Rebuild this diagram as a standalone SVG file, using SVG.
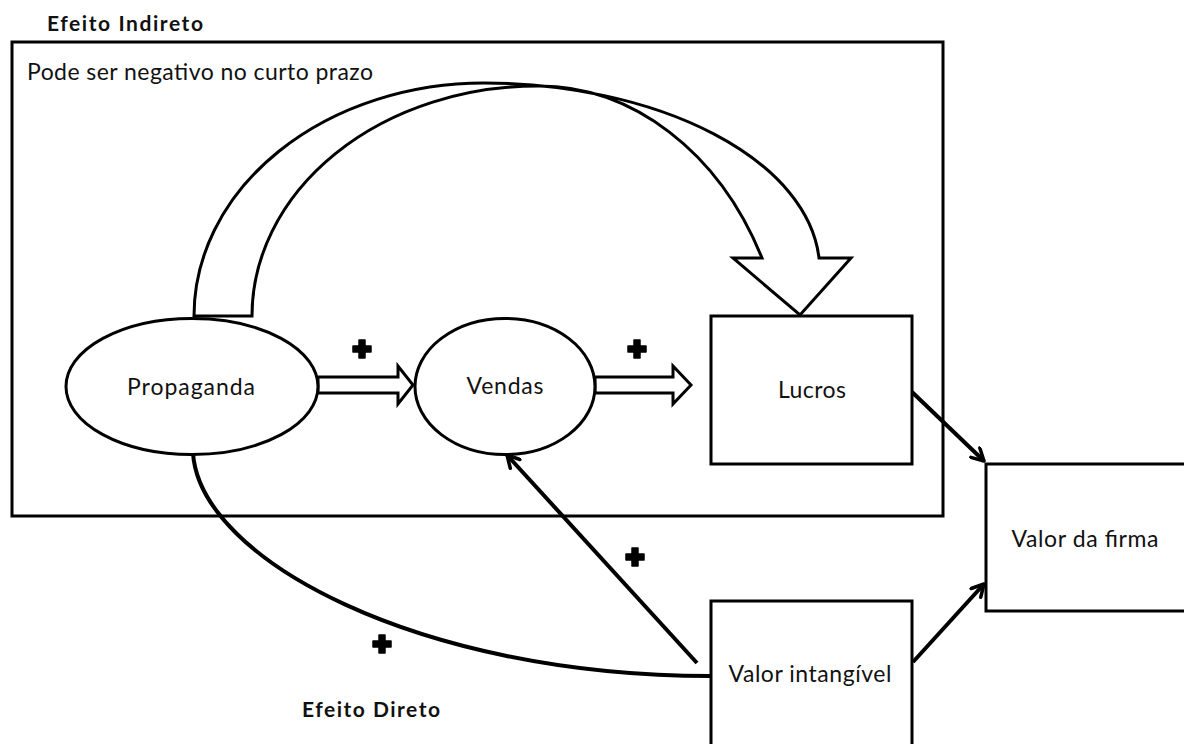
<svg xmlns="http://www.w3.org/2000/svg" width="1184" height="744" viewBox="0 0 1184 744">
  <style>
    .box { fill: #fff; stroke: #000; stroke-width: 3; }
    .frame { fill: none; stroke: #000; stroke-width: 3; }
    .lbl { font-family: Lato, "Open Sans", "Liberation Sans", sans-serif; font-size: 23px; fill: #111; }
    .ttl { font-family: Lato, "Open Sans", "Liberation Sans", sans-serif; font-size: 21px; font-weight: bold; fill: #111; }
    .conn { fill: none; stroke: #000; stroke-width: 4; }
    .blk { fill: #fff; stroke: #000; stroke-width: 3; stroke-linejoin: miter; }
    .plus { fill: #000; stroke: #000; stroke-width: 1.5; stroke-linejoin: round; }
  </style>
  <defs>
    <marker id="open" viewBox="0 0 16 16" refX="14" refY="8" markerWidth="16" markerHeight="16" markerUnits="userSpaceOnUse" orient="auto">
      <path d="M2,1.5 L14,8 L2,14.5" fill="none" stroke="#000" stroke-width="3.5" stroke-linecap="round" stroke-linejoin="round"/>
    </marker>
    <path id="plusShape" d="M-3,-9 H3 V-3 H9 V3 H3 V9 H-3 V3 H-9 V-3 H-3 Z"/>
  </defs>
  <rect width="1184" height="744" fill="#fff"/>

  <g id="frame-indireto">
    <rect class="frame" x="12" y="42" width="931" height="474"/>
    <text class="ttl" x="47" y="31" textLength="156">Efeito Indireto</text>
    <text class="lbl" x="27" y="80" textLength="346">Pode ser negativo no curto prazo</text>
  </g>

  <g id="connectors">
    <path class="blk" d="M194,316 A290,233 0 0 1 484,83 A337,187 0 0 1 819,258 L851,258 L800,315 L733,258 L762,258 A250,314 0 0 0 538,86 A286,230 0 0 0 252,316 Z"/>
    <path class="blk" d="M318,377 H398 V366 L413,385 L398,404 V393 H318 Z"/>
    <path class="blk" d="M595,377 H673 V366 L691,385 L673,404 V393 H595 Z"/>
    <path class="conn" d="M193,453 C200,560 420,676 710,676"/>
    <line class="conn" x1="697" y1="663" x2="507" y2="455" marker-end="url(#open)"/>
    <line class="conn" x1="912" y1="392" x2="984" y2="461" marker-end="url(#open)"/>
    <line class="conn" x1="913" y1="662" x2="984" y2="584" marker-end="url(#open)"/>
  </g>

  <g id="signs">
    <use href="#plusShape" class="plus" x="362" y="349"/>
    <use href="#plusShape" class="plus" x="637" y="349"/>
    <use href="#plusShape" class="plus" x="635" y="557"/>
    <use href="#plusShape" class="plus" x="382" y="644"/>
    <text class="ttl" x="302" y="717" textLength="138">Efeito Direto</text>
  </g>

  <g id="propaganda">
    <ellipse class="box" cx="192" cy="386.5" rx="126" ry="68"/>
    <text class="lbl" x="191" y="395" text-anchor="middle" textLength="128">Propaganda</text>
  </g>

  <g id="vendas">
    <ellipse class="box" cx="505" cy="386.5" rx="90" ry="68"/>
    <text class="lbl" x="505" y="394" text-anchor="middle" textLength="77">Vendas</text>
  </g>

  <g id="lucros">
    <rect class="box" x="711" y="316" width="201" height="148"/>
    <text class="lbl" x="812" y="398" text-anchor="middle" textLength="68">Lucros</text>
  </g>

  <g id="valor-firma">
    <rect class="box" x="986" y="464" width="210" height="147"/>
    <text class="lbl" x="1085" y="547" text-anchor="middle" textLength="147">Valor da firma</text>
  </g>

  <g id="valor-intangivel">
    <rect class="box" x="711" y="601" width="201" height="160"/>
    <text class="lbl" x="810" y="682" text-anchor="middle" textLength="163">Valor intangível</text>
  </g>
</svg>
